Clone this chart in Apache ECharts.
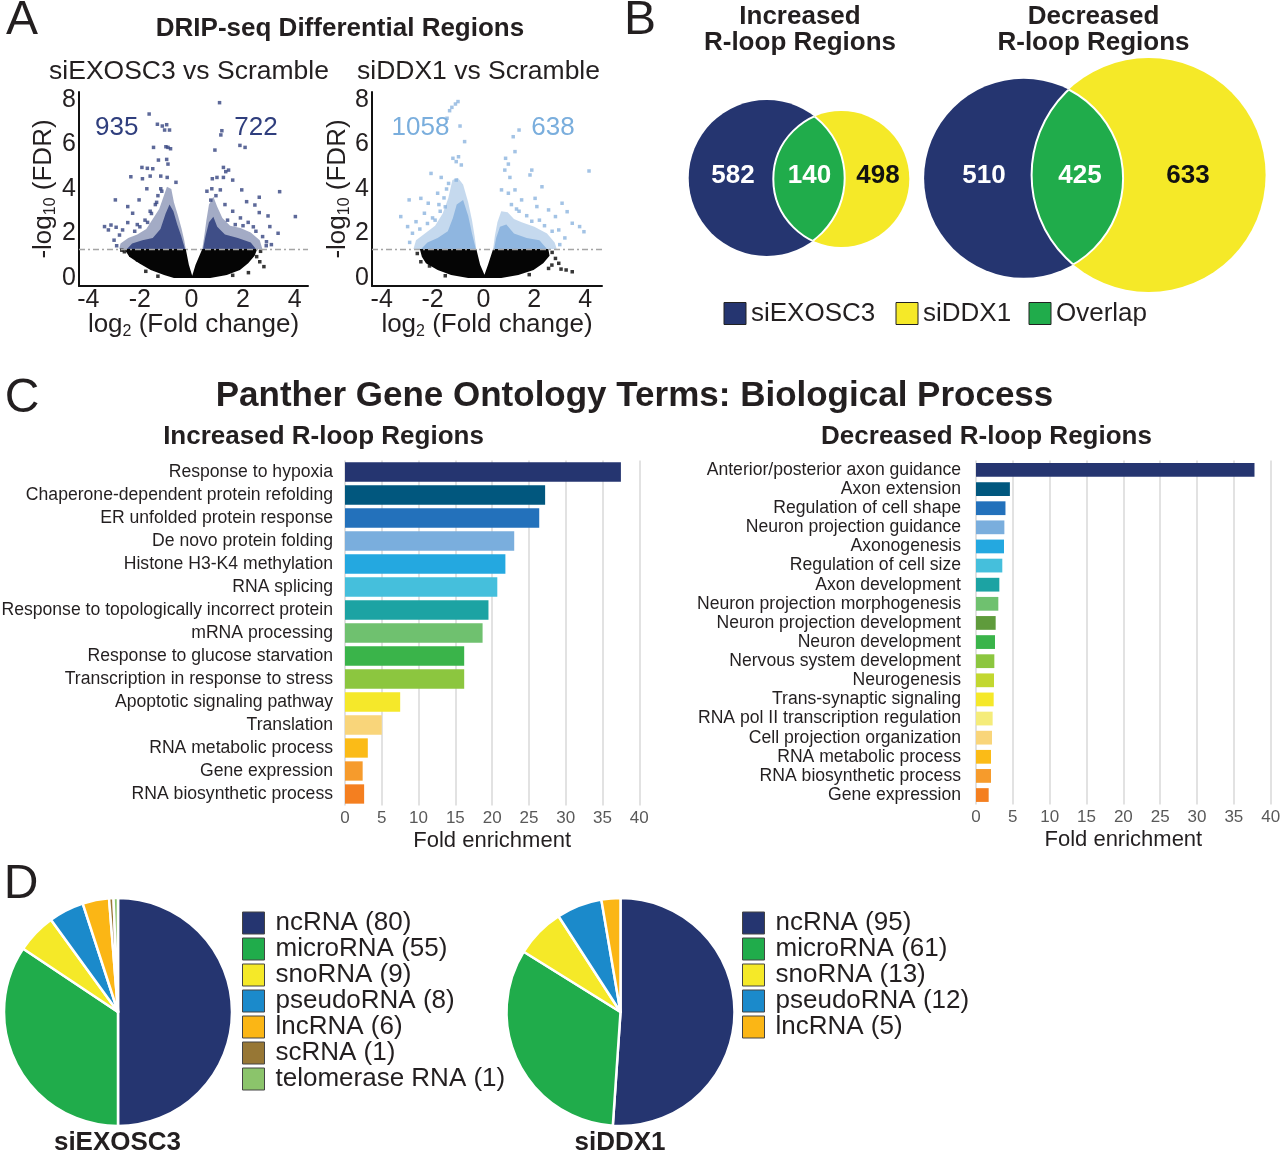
<!DOCTYPE html>
<html><head><meta charset="utf-8">
<script src="https://cdn.jsdelivr.net/npm/echarts@6.0.0/dist/echarts.min.js"></script>
<style>html,body{margin:0;padding:0;background:#fff}#c{width:1280px;height:1154px}</style>
</head><body><div id="c"></div><script>
// ---------------- DATA ----------------
// Panel A: volcano plots
const volcanoTitles = ['siEXOSC3 vs Scramble', 'siDDX1 vs Scramble'];
const volcanoDownCounts = [935, 1058];
const volcanoUpCounts = [722, 638];
const fdrThreshold = 1.3;
const volcanoXTicks = [-4, -2, 0, 2, 4];
const volcanoYTicks = [0, 2, 4, 6, 8];
// dense regions (outline of the packed point clouds)
const exoNonSigCloud = [[-2.6,1.3],[-0.22,1.3],[-0.1,0.6],[0.03,0.1],[0.16,0.6],[0.42,1.3],[2.55,1.3],[2.45,1.0],[2.2,0.66],[1.88,0.36],[1.37,0.13],[0.73,0.0],[-0.68,0.0],[-1.06,0.13],[-1.58,0.36],[-2.03,0.66],[-2.41,0.96]];
const exoDownCloudOuter = [[-2.8,1.3],[-2.75,1.55],[-2.45,1.8],[-2.1,1.95],[-1.75,2.2],[-1.5,2.65],[-1.25,3.1],[-1.1,3.6],[-0.95,4.1],[-0.78,4.0],[-0.68,3.4],[-0.52,2.8],[-0.38,2.2],[-0.28,1.7],[-0.22,1.3]];
const exoUpCloudOuter = [[0.42,1.3],[0.5,1.9],[0.58,2.6],[0.68,3.3],[0.85,3.65],[1.0,3.2],[1.2,2.7],[1.5,2.35],[1.9,2.25],[2.3,2.05],[2.65,1.7],[2.75,1.3]];
const exoDownCloudCore = [[-2.5,1.3],[-2.3,1.55],[-1.9,1.7],[-1.5,1.8],[-1.2,2.2],[-1.0,2.9],[-0.85,3.3],[-0.7,3.0],[-0.55,2.4],[-0.4,1.9],[-0.25,1.3]];
const exoUpCloudCore = [[0.45,1.3],[0.55,1.9],[0.68,2.5],[0.85,2.75],[1.0,2.3],[1.3,1.95],[1.8,1.8],[2.3,1.6],[2.5,1.3]];
const exoSigPoints = [[1.09,7.88],[-1.64,7.37],[-1.32,6.91],[-1.13,6.83],[-0.96,6.89],[-1.04,6.65],[-0.85,6.65],[1.18,6.62],[1.14,6.43],[-1.47,5.87],[-0.99,5.9],[-0.91,5.87],[-0.81,5.81],[0.91,5.75],[1.88,5.96],[2.08,5.87],[-1.28,5.3],[-0.96,5.33],[-0.91,5.12],[-1.92,4.97],[-1.71,4.93],[-1.5,4.91],[1.24,4.97],[1.33,4.78],[1.44,4.85],[-2.35,4.55],[-1.9,4.46],[-1.6,4.58],[-1.19,4.58],[-0.94,4.52],[0.81,4.46],[0.99,4.52],[1.24,4.52],[1.6,4.4],[-1.73,4.01],[-1.19,4.01],[0.79,4.01],[1.12,3.96],[1.95,3.96],[-2.95,3.51],[3.42,3.88],[2.63,3.63],[-2.03,3.51],[2.14,3.43],[2.46,3.28],[4.03,2.76],[2.63,2.94],[2.97,2.79],[-2.47,3.21],[-2.28,2.91],[-3.37,2.31],[-3.12,2.38],[-2.92,2.28],[-2.67,2.16],[-2.47,2.49],[-3.22,2.16],[-2.79,1.93],[3.36,2.01],[3.04,2.31],[2.76,1.86],[2.91,1.63],[-1.4,3.3],[-1.6,3.0],[-1.8,2.6],[-2.1,2.4],[-1.3,3.7],[1.3,3.3],[1.6,3.0],[1.9,2.7],[2.2,2.5],[2.4,2.3],[0.6,3.9],[-0.6,4.3],[-3.0,1.7],[-2.9,1.45],[2.9,1.45],[3.1,1.5],[-2.2,2.1],[-2.0,2.3],[-1.7,2.5],[-1.55,2.9],[-1.35,3.4],[-1.15,3.9],[1.4,2.6],[1.7,2.4],[2.0,2.35],[2.5,2.1],[0.95,3.7],[0.75,3.5]];
const exoNonSigPoints = [[2.81,0.51],[2.21,0.24],[-2.6,1.18],[-2.35,1.03],[-2.09,0.81],[-1.77,0.3],[2.53,0.96],[2.65,0.73],[-2.7,1.25],[2.68,1.2],[-1.3,0.08],[1.6,0.12]];

const ddxNonSigCloud = [[-2.5,1.3],[-0.28,1.3],[-0.13,0.6],[0.04,0.15],[0.18,0.6],[0.38,1.3],[2.55,1.3],[2.6,1.0],[2.35,0.66],[1.97,0.36],[1.37,0.13],[0.7,0.0],[-0.6,0.0],[-1.27,0.13],[-1.8,0.36],[-2.26,0.66],[-2.42,0.96]];
const ddxDownCloudOuter = [[-2.75,1.3],[-2.65,1.7],[-2.3,2.0],[-1.9,2.35],[-1.6,2.9],[-1.38,3.6],[-1.22,4.4],[-1.0,4.5],[-0.8,4.2],[-0.6,3.4],[-0.45,2.6],[-0.35,1.9],[-0.28,1.3]];
const ddxUpCloudOuter = [[0.38,1.3],[0.45,1.9],[0.55,2.5],[0.7,3.0],[0.95,2.95],[1.2,2.65],[1.5,2.5],[2.0,2.3],[2.5,2.0],[2.8,1.6],[2.88,1.3]];
const ddxDownCloudCore = [[-2.45,1.3],[-2.2,1.6],[-1.8,1.8],[-1.4,2.1],[-1.2,2.7],[-1.05,3.3],[-0.8,3.5],[-0.6,2.8],[-0.45,2.0],[-0.3,1.3]];
const ddxUpCloudCore = [[0.42,1.3],[0.5,1.8],[0.65,2.3],[0.9,2.4],[1.2,2.0],[1.7,1.8],[2.2,1.7],[2.5,1.3]];
const ddxSigPoints = [[-1.0,7.93],[-1.1,7.82],[-1.24,7.67],[-1.33,7.52],[-1.43,7.18],[-0.92,6.83],[-0.74,6.13],[1.17,6.35],[1.4,6.65],[1.24,5.68],[0.87,5.38],[0.98,5.12],[-1.2,5.38],[-1.07,5.23],[-0.98,5.45],[-0.87,5.08],[-2.06,4.7],[-1.66,4.52],[-1.37,4.25],[-1.07,4.4],[0.84,4.85],[1.04,4.52],[1.9,4.85],[1.83,4.63],[2.3,4.1],[4.15,4.81],[-2.92,3.51],[-2.46,3.58],[-2.17,3.36],[-1.8,3.81],[0.71,3.96],[0.98,3.81],[1.24,3.96],[1.5,3.51],[2.03,3.58],[3.09,3.36],[3.29,2.98],[3.78,2.31],[3.95,2.08],[-3.25,2.76],[-2.65,2.53],[-2.32,2.91],[-2.98,2.31],[-2.79,2.01],[2.56,3.06],[2.83,2.76],[3.49,2.46],[2.96,2.16],[2.1,3.21],[-1.5,3.2],[-1.7,3.0],[-2.0,2.7],[1.4,3.0],[1.7,2.8],[2.2,2.6],[-2.9,1.6],[3.0,1.5],[3.2,1.8],[-2.5,2.2],[-2.2,2.45],[-1.9,2.6],[-1.75,3.3],[-1.55,3.6],[-1.45,4.0],[1.1,3.3],[1.3,3.1],[1.9,2.55],[2.4,2.35],[2.7,2.1]];
const ddxNonSigPoints = [[2.69,0.58],[2.96,0.66],[2.83,0.88],[3.25,0.36],[3.49,0.28],[2.56,0.43],[-2.46,0.73],[-2.12,0.54],[-2.6,1.1],[2.7,1.15],[-1.5,0.1],[1.8,0.15],[3.05,0.4]];

// Panel B: Venn counts
const vennTitles = [['Increased', 'R-loop Regions'], ['Decreased', 'R-loop Regions']];
const vennEXOSC3Only = [582, 510];
const vennOverlap = [140, 425];
const vennDDX1Only = [498, 633];
const vennLegendNames = ['siEXOSC3', 'siDDX1', 'Overlap'];

// Panel C: GO terms
const incTerms = ['Response to hypoxia','Chaperone-dependent protein refolding','ER unfolded protein response','De novo protein folding','Histone H3-K4 methylation','RNA splicing','Response to topologically incorrect protein','mRNA processing','Response to glucose starvation','Transcription in response to stress','Apoptotic signaling pathway','Translation','RNA metabolic process','Gene expression','RNA biosynthetic process'];
const incFold = [37.5, 27.2, 26.4, 23.0, 21.8, 20.7, 19.5, 18.7, 16.2, 16.2, 7.5, 5.0, 3.1, 2.4, 2.6];
const decTerms = ['Anterior/posterior axon guidance','Axon extension','Regulation of cell shape','Neuron projection guidance','Axonogenesis','Regulation of cell size','Axon development','Neuron projection morphogenesis','Neuron projection development','Neuron development','Nervous system development','Neurogenesis','Trans-synaptic signaling','RNA pol II transcription regulation','Cell projection organization','RNA metabolic process','RNA biosynthetic process','Gene expression'];
const decFold = [37.8, 4.6, 4.0, 3.85, 3.8, 3.57, 3.17, 3.03, 2.67, 2.58, 2.49, 2.44, 2.4, 2.26, 2.17, 2.04, 2.04, 1.72];
const foldTicksInterval = 5;

// Panel D: pies
const exoRnaTypes = ['ncRNA','microRNA','snoRNA','pseudoRNA','lncRNA','scRNA','telomerase RNA'];
const exoRnaCounts = [80, 55, 9, 8, 6, 1, 1];
const ddxRnaTypes = ['ncRNA','microRNA','snoRNA','pseudoRNA','lncRNA'];
const ddxRnaCounts = [95, 61, 13, 12, 5];

// ---------------- STYLE / LAYOUT ----------------
const FF = "'Liberation Sans', Arial, Helvetica, sans-serif";
const TXT = '#231f20';
const NAVY = '#253570', YELLOW = '#f5e928', GREEN = '#20ac4b';
const VOLC_DOWN_UP = ['#34447f', '#8cb4de'];
const incColors = ['#253570','#01577e','#2371bb','#7aaedd','#24a8e0','#45bfdc','#1ca3a3','#6fc16f','#3ab44a','#8cc63f','#f5e82a','#f9d57a','#fbbb17','#f69b2c','#f47f20'];
const decColors = ['#253570','#01577e','#2371bb','#7aaedd','#24a8e0','#45bfdc','#1ca3a3','#6fc16f','#5f9b3c','#3ab44a','#8cc63f','#c2d730','#f5e82a','#f5ec7a','#f9d57a','#fbbb17','#f69b2c','#f47f20'];
const rnaColors = {'ncRNA':'#253570','microRNA':'#20ac4b','snoRNA':'#f5e928','pseudoRNA':'#1b8acb','lncRNA':'#fbb615','scRNA':'#977735','telomerase RNA':'#8bc46b'};
// Venn layout (in panel-B layout units)
const vennShapes = [
  {a:[766.7,178,78], b:[841.3,179,68], lab:[733,809.5,878]},
  {a:[1023.6,178.3,99.5], b:[1148.6,175,117], lab:[984,1080,1188]}
];

function txt(text, x, y, size, extra) {
  return {type:'text', x:x, y:y, silent:true, z:50,
    style:Object.assign({text:text, fontSize:size, fontFamily:FF, fill:TXT, align:'center', verticalAlign:'middle'}, extra||{})};
}

function polySeries(idx, polys, fills, opac) {
  return {type:'custom', xAxisIndex:idx, yAxisIndex:idx, silent:true, clip:true, z:1,
    data: polys.map((p,i)=>[p[0][0], p[0][1], i]),
    renderItem: function(params, api) {
      const i = api.value(2);
      return {type:'polygon', shape:{points: polys[i].map(v=>api.coord(v))}, style:{fill:fills[i], opacity:opac[i]}};
    }};
}
function ptSeries(idx, pts, color, withLine) {
  const s = {type:'scatter', xAxisIndex:idx, yAxisIndex:idx, silent:true, data:pts, symbol:'rect', symbolSize:3.5, itemStyle:{color:color}, z:3};
  if (withLine) s.markLine = {silent:true, symbol:'none', label:{show:false}, lineStyle:{color:'#a5a5a5', type:[6,3,2,3], width:1.4}, data:[{yAxis:fdrThreshold}]};
  return s;
}

const volcYName = '-log{sub|10} (FDR)';
const volcXName = 'log{sub|2} (Fold change)';
const nameRich = {sub:{fontSize:16, fontFamily:FF, color:TXT, verticalAlign:'bottom', lineHeight:12}};
function volcX(gi, min, max) {
  return {type:'value', gridIndex:gi, min:min, max:max, splitLine:{show:false}, axisTick:{show:false},
    axisLine:{onZero:false, lineStyle:{color:'#111', width:2}},
    axisLabel:{customValues:volcanoXTicks, fontSize:25, fontFamily:FF, color:TXT, margin:2},
    name:volcXName, nameLocation:'middle', nameGap:24, nameMoveOverlap:false, nameTextStyle:{fontSize:26, fontFamily:FF, color:TXT, lineHeight:30, rich:nameRich}};
}
function volcY(gi, gap) {
  return {type:'value', gridIndex:gi, min:-0.36, max:8.36, splitLine:{show:false}, axisTick:{show:false},
    axisLine:{show:true, onZero:false, lineStyle:{color:'#111', width:2}},
    axisLabel:{customValues:volcanoYTicks, fontSize:25, fontFamily:FF, color:TXT, margin:3},
    name:volcYName, nameLocation:'middle', nameRotate:90, nameGap:gap, nameMoveOverlap:false, nameTextStyle:{fontSize:26, fontFamily:FF, color:TXT, lineHeight:30, rich:nameRich}};
}
function barX(gi) {
  return {type:'value', gridIndex:gi, min:0, max:40, interval:foldTicksInterval,
    splitLine:{show:true, lineStyle:{color:'#d9d9d9', width:1.5}}, axisLine:{show:false}, axisTick:{show:false},
    axisLabel:{fontSize:17, fontFamily:FF, color:'#595959', margin:4},
    name:'Fold enrichment', nameLocation:'middle', nameGap:24, nameMoveOverlap:false, nameTextStyle:{fontSize:22, fontFamily:FF, color:TXT}};
}
function barY(gi, cats, margin) {
  return {type:'category', gridIndex:gi, data:cats, inverse:true, axisLine:{show:false}, axisTick:{show:false},
    axisLabel:{interval:0, fontSize:17.6, fontFamily:FF, color:TXT, margin:margin}};
}
function barSeries(gi, vals, colors, gap) {
  return {type:'bar', xAxisIndex:gi, yAxisIndex:gi, silent:true, barCategoryGap:gap,
    data: vals.map((v,i)=>({value:v, itemStyle:{color:colors[i]}}))};
}
function pieSeries(center, names, counts) {
  return {type:'pie', center:center, radius:114, startAngle:90, clockwise:true, silent:true,
    label:{show:false}, labelLine:{show:false}, itemStyle:{borderColor:'#fff', borderWidth:2.5},
    data: names.map((n,i)=>({name:n, value:counts[i], itemStyle:{color:rnaColors[n]}}))};
}
function pieLegend(left, names, counts) {
  return {show:true, orient:'vertical', left:left, top:910, padding:0, itemWidth:22, itemHeight:22, itemGap:0, icon:'rect',
    selectedMode:false, data:names, itemStyle:{borderColor:'#444', borderWidth:1},
    formatter: n => n + ' (' + counts[names.indexOf(n)] + ')',
    textStyle:{fontSize:26, fontFamily:FF, color:TXT, lineHeight:22, padding:[0,0,0,6]}};
}

const vennSeries = {
  type:'custom', xAxisIndex:2, yAxisIndex:2, silent:true, clip:false, z:5,
  data: vennEXOSC3Only.map((v,i)=>[vennShapes[i].a[0], vennShapes[i].a[1], v, vennOverlap[i], vennDDX1Only[i], i]),
  renderItem: function(params, api) {
    const g = vennShapes[api.value(5)];
    const ca = api.coord([g.a[0], g.a[1]]), cb = api.coord([g.b[0], g.b[1]]);
    const ra = api.size([g.a[2], 0])[0], rb = api.size([g.b[2], 0])[0];
    const A = {cx:ca[0], cy:ca[1], r:ra}, B = {cx:cb[0], cy:cb[1], r:rb};
    const numStyle = (t, x, c) => ({type:'text', style:{text:String(t), x:api.coord([x,0])[0], y:api.coord([0,176])[1], fill:c, fontSize:26, fontWeight:'bold', fontFamily:FF, align:'center', verticalAlign:'middle'}});
    return {type:'group', children:[
      {type:'circle', shape:A, style:{fill:NAVY}},
      {type:'circle', shape:B, style:{fill:YELLOW}},
      {type:'circle', shape:B, style:{fill:GREEN}, clipPath:{type:'circle', shape:A}},
      {type:'circle', shape:B, style:{fill:'none', stroke:'#fff', lineWidth:2}, clipPath:{type:'circle', shape:A}},
      {type:'circle', shape:A, style:{fill:'none', stroke:'#fff', lineWidth:2}, clipPath:{type:'circle', shape:B}},
      numStyle(api.value(2), g.lab[0], '#fff'),
      numStyle(api.value(3), g.lab[1], '#fff'),
      numStyle(api.value(4), g.lab[2], '#111')
    ]};
  }
};

const graphics = [
  txt('A', 22, 21, 48), txt('B', 640, 21, 48), txt('C', 22, 399, 48), txt('D', 21, 885, 48),
  txt('DRIP-seq Differential Regions', 340, 29, 26, {fontWeight:'bold'}),
  txt(volcanoTitles[0], 189, 72, 26.5), txt(volcanoTitles[1], 478.5, 72, 26.5),
  txt(String(volcanoDownCounts[0]), 116.7, 128, 26, {fill:'#2f3e7d'}),
  txt(String(volcanoUpCounts[0]), 256, 128, 26, {fill:'#2f3e7d'}),
  txt(String(volcanoDownCounts[1]), 420.5, 128, 26, {fill:'#7aaedd'}),
  txt(String(volcanoUpCounts[1]), 553, 128, 26, {fill:'#7aaedd'}),
  txt(vennTitles[0][0], 800, 17, 26, {fontWeight:'bold'}), txt(vennTitles[0][1], 800, 43, 26, {fontWeight:'bold'}),
  txt(vennTitles[1][0], 1093.5, 17, 26, {fontWeight:'bold'}), txt(vennTitles[1][1], 1093.5, 43, 26, {fontWeight:'bold'}),
  {type:'rect', shape:{x:724, y:302.5, width:22, height:22}, style:{fill:NAVY, stroke:'#222', lineWidth:1}, silent:true},
  {type:'rect', shape:{x:896, y:302.5, width:22, height:22}, style:{fill:YELLOW, stroke:'#222', lineWidth:1}, silent:true},
  {type:'rect', shape:{x:1029, y:302.5, width:22, height:22}, style:{fill:GREEN, stroke:'#222', lineWidth:1}, silent:true},
  txt(vennLegendNames[0], 751, 314, 26, {align:'left'}),
  txt(vennLegendNames[1], 923, 314, 26, {align:'left'}),
  txt(vennLegendNames[2], 1056, 314, 26, {align:'left'}),
  txt('Panther Gene Ontology Terms: Biological Process', 634.5, 396, 35, {fontWeight:'bold'}),
  txt('Increased R-loop Regions', 323.5, 437, 26, {fontWeight:'bold'}),
  txt('Decreased R-loop Regions', 986.5, 437, 26, {fontWeight:'bold'}),
  txt('siEXOSC3', 117.5, 1143, 26, {fontWeight:'bold'}),
  txt('siDDX1', 620, 1143, 26, {fontWeight:'bold'})
];

const G = {outerBoundsMode:'none', containLabel:false};
const option = {
  animation:false, backgroundColor:'#fff',
  textStyle:{fontFamily:FF},
  graphic: graphics,
  grid:[
    Object.assign({left:79, top:92, width:229, height:194}, G),
    Object.assign({left:372, top:92, width:230, height:194}, G),
    Object.assign({left:620, top:0, width:660, height:340}, G),
    Object.assign({left:345, top:460.5, width:294.3, height:345}, G),
    Object.assign({left:976, top:460.4, width:294.7, height:344.2}, G)
  ],
  xAxis:[
    volcX(0, -4.36, 4.52), volcX(1, -4.38, 4.66),
    {type:'value', gridIndex:2, min:620, max:1280, show:false},
    barX(3), barX(4)
  ],
  yAxis:[
    volcY(0, 20), volcY(1, 19),
    {type:'value', gridIndex:2, min:0, max:340, inverse:true, show:false},
    barY(3, incTerms, 12), barY(4, decTerms, 15)
  ],
  legend:[pieLegend(242, exoRnaTypes, exoRnaCounts), pieLegend(742, ddxRnaTypes, ddxRnaCounts)],
  series:[
    polySeries(0, [exoNonSigCloud, exoDownCloudOuter, exoUpCloudOuter, exoDownCloudCore, exoUpCloudCore], ['#050505', VOLC_DOWN_UP[0], VOLC_DOWN_UP[0], VOLC_DOWN_UP[0], VOLC_DOWN_UP[0]], [1, 0.45, 0.45, 0.9, 0.9]),
    ptSeries(0, exoSigPoints, VOLC_DOWN_UP[0], false),
    ptSeries(0, exoNonSigPoints, '#050505', true),
    polySeries(1, [ddxNonSigCloud, ddxDownCloudOuter, ddxUpCloudOuter, ddxDownCloudCore, ddxUpCloudCore], ['#050505', VOLC_DOWN_UP[1], VOLC_DOWN_UP[1], VOLC_DOWN_UP[1], VOLC_DOWN_UP[1]], [1, 0.5, 0.5, 0.95, 0.95]),
    ptSeries(1, ddxSigPoints, VOLC_DOWN_UP[1], false),
    ptSeries(1, ddxNonSigPoints, '#050505', true),
    vennSeries,
    barSeries(3, incFold, incColors, '16%'),
    barSeries(4, decFold, decColors, '28%'),
    pieSeries([118, 1012], exoRnaTypes, exoRnaCounts),
    pieSeries([620.5, 1012], ddxRnaTypes, ddxRnaCounts)
  ]
};
const chart = echarts.init(document.getElementById('c'), null, {width:1280, height:1154});
chart.setOption(option);
</script></body></html>
